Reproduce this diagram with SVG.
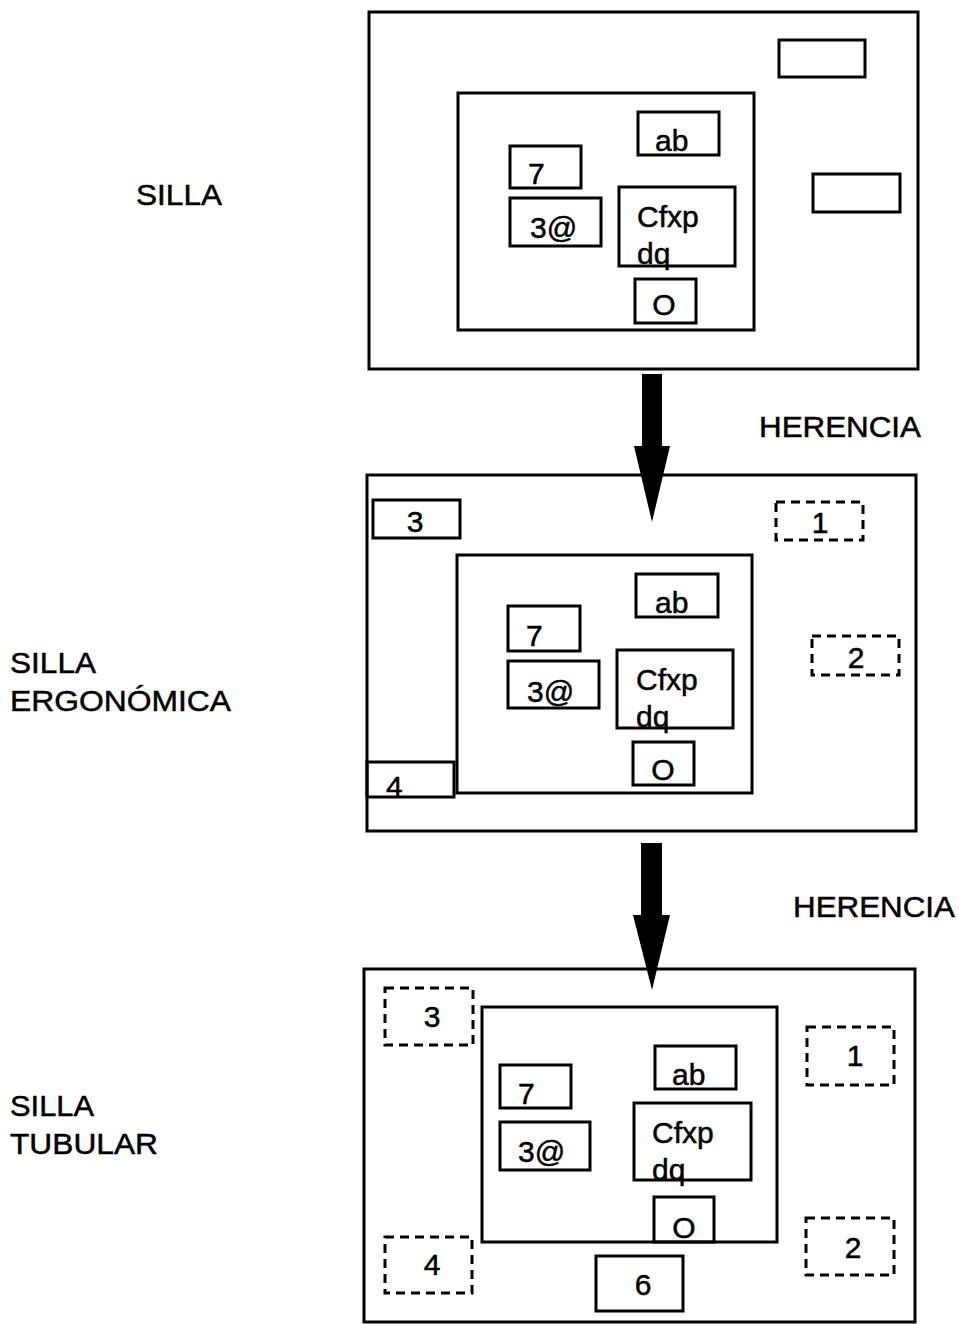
<svg xmlns="http://www.w3.org/2000/svg" width="959" height="1324" viewBox="0 0 959 1324">
<style>
.b{fill:none;stroke:#000;stroke-width:3}
.d{fill:none;stroke:#000;stroke-width:3;stroke-dasharray:9 6}
text{font-family:"Liberation Sans",Arial,sans-serif;font-size:30px;fill:#000;stroke:#000;stroke-width:0.5}
.m{text-anchor:middle}
</style>
<rect width="959" height="1324" fill="#fff"/>
<g id="labels">
<text x="136" y="205" textLength="86" lengthAdjust="spacingAndGlyphs">SILLA</text>
<text x="10" y="673" textLength="86" lengthAdjust="spacingAndGlyphs">SILLA</text>
<text x="10" y="711" textLength="221" lengthAdjust="spacingAndGlyphs">ERGONÓMICA</text>
<text x="10" y="1116" textLength="84" lengthAdjust="spacingAndGlyphs">SILLA</text>
<text x="10" y="1154" textLength="148" lengthAdjust="spacingAndGlyphs">TUBULAR</text>
<text x="759" y="437" textLength="162" lengthAdjust="spacingAndGlyphs">HERENCIA</text>
<text x="793" y="917" textLength="162" lengthAdjust="spacingAndGlyphs">HERENCIA</text>
</g>
<g id="silla">
<rect class="b" x="369" y="12" width="549" height="357"/>
<rect class="b" x="779" y="40" width="86" height="37"/>
<rect class="b" x="813" y="174" width="87" height="38"/>
<rect class="b" x="458" y="93" width="296" height="237"/>
<rect class="b" x="638" y="112" width="81" height="43"/>
<text x="655" y="151">ab</text>
<rect class="b" x="510" y="146" width="71" height="42"/>
<text x="528" y="184">7</text>
<rect class="b" x="510" y="198" width="91" height="48"/>
<text x="530" y="238">3@</text>
<rect class="b" x="619" y="187" width="116" height="79"/>
<text x="637" y="227">Cfxp</text>
<text x="637" y="264">dq</text>
<rect class="b" x="635" y="279" width="61" height="44"/>
<text class="m" x="664" y="315">O</text>
</g>
<g id="silla-ergonomica">
<rect class="b" x="367" y="475" width="549" height="356"/>
<rect class="b" x="373" y="500" width="87" height="38"/>
<text class="m" x="415" y="532">3</text>
<rect class="d" x="776" y="502" width="87" height="38"/>
<text class="m" x="820" y="533">1</text>
<rect class="d" x="812" y="636" width="87" height="39"/>
<text class="m" x="856" y="668">2</text>
<rect class="b" x="457" y="555" width="295" height="238"/>
<rect class="b" x="636" y="574" width="82" height="43"/>
<text x="655" y="613">ab</text>
<rect class="b" x="508" y="606" width="72" height="45"/>
<text x="526" y="646">7</text>
<rect class="b" x="508" y="661" width="91" height="47"/>
<text x="527" y="702">3@</text>
<rect class="b" x="617" y="650" width="116" height="78"/>
<text x="636" y="690">Cfxp</text>
<text x="636" y="727">dq</text>
<rect class="b" x="633" y="742" width="61" height="43"/>
<text class="m" x="663" y="780">O</text>
<rect class="b" x="367" y="762" width="87" height="35"/>
<text x="386" y="797">4</text>
</g>
<g id="silla-tubular">
<rect class="b" x="364" y="969" width="551" height="353"/>
<rect class="d" x="385" y="988" width="88" height="57"/>
<text class="m" x="432" y="1027">3</text>
<rect class="b" x="482" y="1007" width="295" height="235"/>
<rect class="b" x="655" y="1046" width="81" height="43"/>
<text x="672" y="1085">ab</text>
<rect class="b" x="500" y="1065" width="71" height="43"/>
<text x="518" y="1104">7</text>
<rect class="b" x="500" y="1122" width="90" height="48"/>
<text x="518" y="1162">3@</text>
<rect class="b" x="634" y="1103" width="117" height="77"/>
<text x="652" y="1143">Cfxp</text>
<text x="652" y="1180">dq</text>
<rect class="b" x="654" y="1197" width="60" height="45"/>
<text class="m" x="684" y="1238">O</text>
<rect class="d" x="807" y="1027" width="87" height="58"/>
<text class="m" x="855" y="1066">1</text>
<rect class="d" x="806" y="1218" width="88" height="57"/>
<text class="m" x="853" y="1258">2</text>
<rect class="d" x="385" y="1237" width="87" height="56"/>
<text class="m" x="432" y="1275">4</text>
<rect class="b" x="596" y="1256" width="87" height="55"/>
<text class="m" x="643" y="1295">6</text>
</g>
<g id="connectors" fill="#000">
<polygon points="642,374 662,374 662,446 670,446 652,522 634,446 642,446"/>
<polygon points="641,843 662,843 662,915 670,915 652,990 633,915 641,915"/>
</g>
</svg>
